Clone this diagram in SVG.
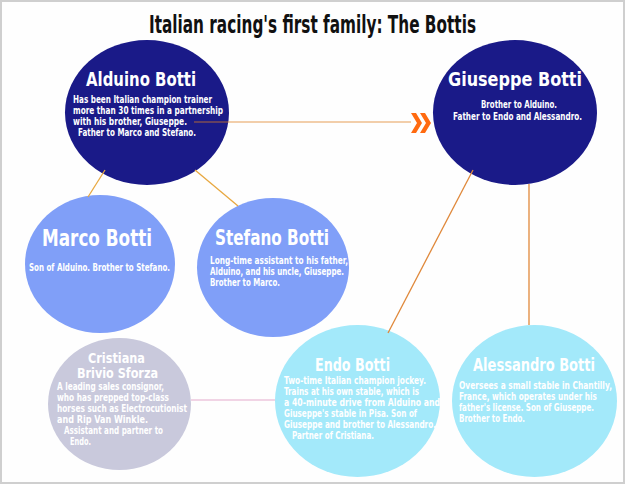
<svg xmlns="http://www.w3.org/2000/svg" width="625" height="484" viewBox="0 0 625 484">
<style>
text{font-family:"DejaVu Sans Condensed","DejaVu Sans","Liberation Sans",sans-serif;font-weight:bold;fill:#fff}
.t{font-size:24px;fill:#111}
.h{font-size:20px}
.b{font-size:10px}
.navy{fill:#1a1a88}
.peri{fill:#809ff8}
.lav{fill:#c9c9dc}
.cyan{fill:#a3e9fa}
.c{fill:none;stroke-width:1.3}
</style>
<rect x="1" y="1" width="623" height="482" fill="#fefefe" stroke="#cfcfcf" stroke-width="2"/>
<text class="t" x="149" y="33" textLength="327" lengthAdjust="spacingAndGlyphs">Italian racing's first family: The Bottis</text>

<g id="alduino">
<ellipse class="navy" cx="147" cy="112.5" rx="82" ry="72.5"/>
<text class="h" x="86" y="86" textLength="110" lengthAdjust="spacingAndGlyphs">Alduino Botti</text>
<text class="b" x="73" y="103" textLength="139" lengthAdjust="spacingAndGlyphs">Has been Italian champion trainer</text>
<text class="b" x="73" y="114" textLength="150" lengthAdjust="spacingAndGlyphs">more than 30 times in a partnership</text>
<text class="b" x="73" y="125" textLength="114" lengthAdjust="spacingAndGlyphs">with his brother, Giuseppe.</text>
<text class="b" x="78" y="136" textLength="118" lengthAdjust="spacingAndGlyphs">Father to Marco and Stefano.</text>
</g>

<g id="giuseppe">
<ellipse class="navy" cx="515" cy="112.5" rx="82" ry="72.5"/>
<text class="h" x="448" y="86" textLength="134" lengthAdjust="spacingAndGlyphs">Giuseppe Botti</text>
<text class="b" x="481" y="108" textLength="76" lengthAdjust="spacingAndGlyphs">Brother to Alduino.</text>
<text class="b" x="453" y="120" textLength="129" lengthAdjust="spacingAndGlyphs">Father to Endo and Alessandro.</text>
</g>

<g id="marco">
<ellipse class="peri" cx="100" cy="264" rx="75" ry="69"/>
<text class="h" style="font-size:23px" x="42" y="246" textLength="110" lengthAdjust="spacingAndGlyphs">Marco Botti</text>
<text class="b" x="29" y="271" textLength="141" lengthAdjust="spacingAndGlyphs">Son of Alduino. Brother to Stefano.</text>
</g>

<g id="stefano">
<ellipse class="peri" cx="273" cy="267.5" rx="76" ry="69.5"/>
<text class="h" style="font-size:21px" x="215" y="245" textLength="114" lengthAdjust="spacingAndGlyphs">Stefano Botti</text>
<text class="b" x="210" y="264" textLength="138" lengthAdjust="spacingAndGlyphs">Long-time assistant to his father,</text>
<text class="b" x="210" y="275" textLength="134" lengthAdjust="spacingAndGlyphs">Alduino, and his uncle, Giuseppe.</text>
<text class="b" x="210" y="286" textLength="70" lengthAdjust="spacingAndGlyphs">Brother to Marco.</text>
</g>

<g id="cristiana">
<ellipse class="lav" cx="119.5" cy="404" rx="71.5" ry="66"/>
<text class="h" style="font-size:14px" x="88" y="363" textLength="57" lengthAdjust="spacingAndGlyphs">Cristiana</text>
<text class="h" style="font-size:14px" x="77" y="378" textLength="81" lengthAdjust="spacingAndGlyphs">Brivio Sforza</text>
<text class="b" x="57" y="390" textLength="107" lengthAdjust="spacingAndGlyphs">A leading sales consignor,</text>
<text class="b" x="57" y="401" textLength="112" lengthAdjust="spacingAndGlyphs">who has prepped top-class</text>
<text class="b" x="57" y="412" textLength="130" lengthAdjust="spacingAndGlyphs">horses such as Electrocutionist</text>
<text class="b" x="57" y="423" textLength="91" lengthAdjust="spacingAndGlyphs">and Rip Van Winkle.</text>
<text class="b" x="64" y="434" textLength="99" lengthAdjust="spacingAndGlyphs">Assistant and partner to</text>
<text class="b" x="70" y="445" textLength="21" lengthAdjust="spacingAndGlyphs">Endo.</text>
</g>

<g id="endo">
<ellipse class="cyan" cx="357.5" cy="401" rx="82.5" ry="76"/>
<text class="h" style="font-size:18px" x="315" y="371" textLength="75" lengthAdjust="spacingAndGlyphs">Endo Botti</text>
<text class="b" x="284" y="384" textLength="142" lengthAdjust="spacingAndGlyphs">Two-time Italian champion jockey.</text>
<text class="b" x="284" y="395" textLength="135" lengthAdjust="spacingAndGlyphs">Trains at his own stable, which is</text>
<text class="b" x="284" y="406" textLength="156" lengthAdjust="spacingAndGlyphs">a 40-minute drive from Alduino and</text>
<text class="b" x="284" y="417" textLength="133" lengthAdjust="spacingAndGlyphs">Giuseppe's stable in Pisa. Son of</text>
<text class="b" x="284" y="428" textLength="152" lengthAdjust="spacingAndGlyphs">Giuseppe and brother to Alessandro.</text>
<text class="b" x="292" y="439" textLength="82" lengthAdjust="spacingAndGlyphs">Partner of Cristiana.</text>
</g>

<g id="alessandro">
<ellipse class="cyan" cx="534.5" cy="401" rx="82.5" ry="76"/>
<text class="h" style="font-size:18px" x="473" y="371" textLength="122" lengthAdjust="spacingAndGlyphs">Alessandro Botti</text>
<text class="b" x="459" y="389" textLength="153" lengthAdjust="spacingAndGlyphs">Oversees a small stable in Chantilly,</text>
<text class="b" x="459" y="400" textLength="138" lengthAdjust="spacingAndGlyphs">France, which operates under his</text>
<text class="b" x="459" y="411" textLength="135" lengthAdjust="spacingAndGlyphs">father's license. Son of Giuseppe.</text>
<text class="b" x="459" y="422" textLength="66" lengthAdjust="spacingAndGlyphs">Brother to Endo.</text>
</g>

<g id="connectors">
<line class="c" x1="194" y1="122" x2="411" y2="122" stroke="#e08020" stroke-opacity="0.5" stroke-width="1.6"/>
<path d="M411,113 H416 L422,123 L416,133 H411 L417,123 Z M420,113 H425 L431,123 L425,133 H420 L426,123 Z" fill="#ff6a10"/>
<line class="c" x1="105" y1="170" x2="88" y2="197" stroke="#e8a840"/>
<line class="c" x1="195" y1="170" x2="238" y2="206" stroke="#e8a840"/>
<line class="c" x1="473" y1="170" x2="388" y2="333" stroke="#e0883a"/>
<line class="c" x1="529" y1="184" x2="529" y2="325" stroke="#e0883a"/>
<line class="c" x1="191" y1="400" x2="275" y2="400" stroke="#ecc6dc" stroke-width="1.5"/>
</g>
</svg>
